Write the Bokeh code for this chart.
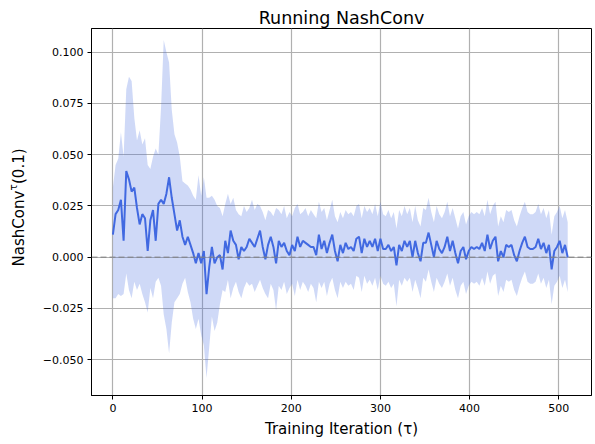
import math
from bokeh.plotting import figure
from bokeh.layouts import row
from bokeh.core.properties import value
from bokeh.models import Range1d, FixedTicker, CustomJSTickFormatter, Span, ColumnDataSource
from bokeh.embed import file_html
from bokeh.resources import INLINE

mean_nc = [
    0.011, 0.021, 0.023, 0.028, 0.008, 0.042, 0.038, 0.032, 0.034, 0.024,
    0.016, 0.021, 0.019, 0.003, 0.018, 0.023, 0.008, 0.026, 0.028, 0.026,
    0.031, 0.039, 0.029, 0.021, 0.013, 0.018, 0.010, 0.006, 0.010, 0.006,
    0.002, -0.003, 0.002, -0.003, 0.003, -0.018, -0.005, 0.005, -0.003, 0.000,
    0.001, -0.006, 0.008, 0.002, 0.013, 0.008, 0.006, -0.001, 0.005, 0.003,
    0.005, 0.009, 0.007, 0.005, 0.009, 0.013, 0.005, -0.001, 0.006, 0.010,
    0.005, -0.003, 0.008, 0.005, 0.007, 0.003, 0.001, 0.006, 0.003, 0.010,
    0.005, 0.008, 0.007, 0.006, 0.005, 0.005, 0.001, 0.011, 0.004, 0.008,
    0.002, 0.007, 0.011, 0.003, -0.002, 0.006, 0.002, 0.007, 0.004, 0.005,
    0.003, 0.009, 0.010, 0.002, 0.009, 0.005, 0.008, 0.005, 0.009, 0.003,
    0.009, 0.004, 0.004, 0.006, 0.003, 0.005, -0.004, 0.006, 0.003, 0.008,
    0.005, 0.008, 0.000, 0.008, 0.002, -0.002, 0.007, 0.007, 0.012, 0.006,
    0.000, 0.008, 0.004, 0.002, 0.005, 0.010, 0.003, 0.008, 0.002, -0.003,
    0.003, 0.005, -0.001, 0.003, 0.005, 0.004, 0.005, 0.004, 0.007, 0.003,
    0.011, 0.004, 0.008, 0.010, -0.002, 0.003, 0.000, 0.006, 0.005, 0.006,
    0.001, -0.002, 0.003, 0.007, 0.010, 0.005, 0.004, 0.004, 0.005, 0.009,
    0.004, 0.007, 0.002, 0.006, -0.006, 0.003, 0.005, 0.008, 0.002, 0.006,
    0.000,
]
upper_nc = [
    0.034, 0.045, 0.048, 0.061, 0.049, 0.082, 0.088, 0.086, 0.068, 0.057,
    0.062, 0.055, 0.058, 0.045, 0.043, 0.049, 0.053, 0.050, 0.073, 0.106,
    0.100, 0.095, 0.072, 0.060, 0.056, 0.049, 0.037, 0.036, 0.035, 0.033,
    0.030, 0.028, 0.040, 0.030, 0.039, 0.029, 0.029, 0.030, 0.028, 0.025,
    0.024, 0.020, 0.026, 0.031, 0.026, 0.029, 0.023, 0.021, 0.020, 0.025,
    0.022, 0.024, 0.028, 0.023, 0.026, 0.025, 0.022, 0.018, 0.023, 0.022,
    0.020, 0.024, 0.023, 0.021, 0.025, 0.019, 0.022, 0.020, 0.024, 0.026,
    0.021, 0.022, 0.024, 0.020, 0.023, 0.021, 0.019, 0.027, 0.022, 0.024,
    0.018, 0.023, 0.028, 0.020, 0.017, 0.022, 0.019, 0.023, 0.021, 0.022,
    0.020, 0.025, 0.026, 0.019, 0.025, 0.022, 0.024, 0.021, 0.026, 0.020,
    0.027, 0.021, 0.020, 0.023, 0.019, 0.022, 0.014, 0.023, 0.020, 0.025,
    0.021, 0.024, 0.017, 0.025, 0.018, 0.015, 0.024, 0.023, 0.029, 0.022,
    0.017, 0.025, 0.021, 0.019, 0.022, 0.027, 0.020, 0.024, 0.019, 0.014,
    0.020, 0.022, 0.016, 0.020, 0.022, 0.021, 0.022, 0.021, 0.024, 0.020,
    0.028, 0.021, 0.025, 0.027, 0.015, 0.020, 0.017, 0.023, 0.022, 0.023,
    0.018, 0.015, 0.020, 0.024, 0.027, 0.022, 0.021, 0.021, 0.022, 0.026,
    0.021, 0.024, 0.019, 0.023, 0.011, 0.020, 0.022, 0.025, 0.019, 0.023,
    0.017,
]
lower_nc = [
    -0.020, -0.020, -0.018, -0.019, -0.018, -0.008, -0.016, -0.020, -0.012, -0.016,
    -0.013, -0.018, -0.022, -0.027, -0.015, -0.020, -0.012, -0.010, -0.014, -0.028,
    -0.035, -0.047, -0.032, -0.022, -0.020, -0.018, -0.013, -0.010, -0.017, -0.022,
    -0.030, -0.035, -0.030, -0.038, -0.043, -0.059, -0.044, -0.029, -0.036, -0.032,
    -0.023, -0.016, -0.017, -0.011, -0.020, -0.015, -0.012, -0.017, -0.020, -0.015,
    -0.012, -0.014, -0.013, -0.017, -0.014, -0.011, -0.015, -0.018, -0.020, -0.013,
    -0.016, -0.026, -0.014, -0.016, -0.012, -0.018, -0.015, -0.013, -0.019, -0.011,
    -0.016, -0.012, -0.014, -0.017, -0.013, -0.015, -0.022, -0.012, -0.015, -0.012,
    -0.019, -0.013, -0.010, -0.016, -0.020, -0.012, -0.015, -0.012, -0.014, -0.013,
    -0.016, -0.009, -0.010, -0.017, -0.009, -0.013, -0.011, -0.014, -0.010, -0.016,
    -0.009, -0.013, -0.014, -0.012, -0.015, -0.013, -0.024, -0.011, -0.014, -0.010,
    -0.012, -0.010, -0.017, -0.011, -0.015, -0.020, -0.010, -0.012, -0.006, -0.012,
    -0.017, -0.010, -0.013, -0.015, -0.012, -0.008, -0.014, -0.010, -0.016, -0.020,
    -0.014, -0.012, -0.018, -0.014, -0.012, -0.013, -0.012, -0.014, -0.010, -0.014,
    -0.007, -0.013, -0.009, -0.008, -0.019, -0.014, -0.017, -0.011, -0.012, -0.011,
    -0.016, -0.019, -0.014, -0.010, -0.007, -0.012, -0.013, -0.013, -0.012, -0.008,
    -0.013, -0.010, -0.015, -0.011, -0.023, -0.014, -0.012, -0.009, -0.015, -0.011,
    -0.017,
]
iterations = list(range(0, 3 * len(mean_nc), 3))
x_ticks = [0, 100, 200, 300, 400, 500]
y_ticks = [-0.05, -0.025, 0.0, 0.025, 0.05, 0.075, 0.1]
title_text = "Running NashConv"
x_label = "Training Iteration (τ)"
y_label_parts = ["NashConv", "τ", "(0.1)"]

FONT = "DejaVu Sans"
W, H = 595, 444
LW = 36                                     # width of the y-label strip
FR_L, FR_T, FR_W, FR_H = 91, 28, 500, 367   # frame box in page pixels
X0, X1 = -24.0, 536.7
Y0, Y1 = -0.0675, 0.1116

src = ColumnDataSource(dict(it=iterations, mean=mean_nc, up=upper_nc, lo=lower_nc))
yr = Range1d(Y0, Y1)

p = figure(width=W - LW, height=H, output_backend="svg", toolbar_location=None,
           x_range=Range1d(X0, X1), y_range=yr,
           min_border_left=FR_L - LW, min_border_right=W - FR_L - FR_W,
           min_border_top=FR_T, min_border_bottom=H - FR_T - FR_H,
           title=title_text)
p.title.align = "center"
p.title.text_font = FONT
p.title.text_font_size = "17.5px"
p.title.text_font_style = "normal"
p.title.text_color = "black"
p.title.standoff = 1
p.background_fill_color = "white"
p.border_fill_color = "white"
p.outline_line_color = "black"
p.outline_line_width = 1
p.outline_line_alpha = 1.0

p.grid.grid_line_color = "#b0b0b0"
p.grid.grid_line_width = 1.2

p.xaxis.ticker = FixedTicker(ticks=x_ticks)
p.yaxis.ticker = FixedTicker(ticks=y_ticks)
p.yaxis.formatter = CustomJSTickFormatter(
    code="return (tick < 0 ? '\u2212' : '') + Math.abs(tick).toFixed(3);")

for ax in p.axis:
    ax.major_tick_in = 0
    ax.major_tick_out = 4
    ax.minor_tick_line_color = None
    ax.axis_line_color = "black"
    ax.major_tick_line_color = "black"
    ax.major_label_text_font = FONT
    ax.major_label_text_font_size = "11px"
    ax.major_label_text_color = "black"
    ax.major_label_standoff = 4

p.xaxis.axis_label = x_label
p.xaxis.axis_label_text_font = FONT
p.xaxis.axis_label_text_font_size = "15px"
p.xaxis.axis_label_text_font_style = "normal"
p.xaxis.axis_label_text_color = "black"
p.xaxis.axis_label_standoff = 5

p.varea(x="it", y1="lo", y2="up", source=src, fill_color="royalblue", fill_alpha=0.25)
p.line(x="it", y="mean", source=src, line_color="royalblue", line_width=2)
p.add_layout(Span(location=0, dimension="width", line_color="gray", line_alpha=0.7,
                  line_width=1.5, line_dash="6 3"))

# narrow strip holding the rotated y-axis label (with superscript tau);
# it shares the y range so its frame lines up with the main frame
lab = figure(width=LW, height=H, output_backend="svg", toolbar_location=None,
             x_range=Range1d(0, LW), y_range=yr,
             min_border_left=0, min_border_right=0,
             min_border_top=FR_T, min_border_bottom=H - FR_T - FR_H,
             x_axis_type=None, y_axis_type=None)
lab.outline_line_color = None
lab.grid.visible = False
lab.background_fill_color = "white"
lab.border_fill_color = "white"


def page_y_to_data(py):
    return Y1 - (py - FR_T) * (Y1 - Y0) / FR_H


# anchor points in page pixels (x from left, y from top) and font sizes
for txt, px, py, size in zip(y_label_parts, [18, 12, 18], [266, 190, 183.5],
                             ["15px", "10.5px", "15px"]):
    lab.text(x=[px], y=[page_y_to_data(py)], text=[txt], angle=math.pi / 2,
             text_font=value(FONT), text_font_size=value(size), text_color="black",
             text_align="left", text_baseline="alphabetic")

layout = row(lab, p, spacing=0)
open("out.html", "w").write(file_html(layout, INLINE))
